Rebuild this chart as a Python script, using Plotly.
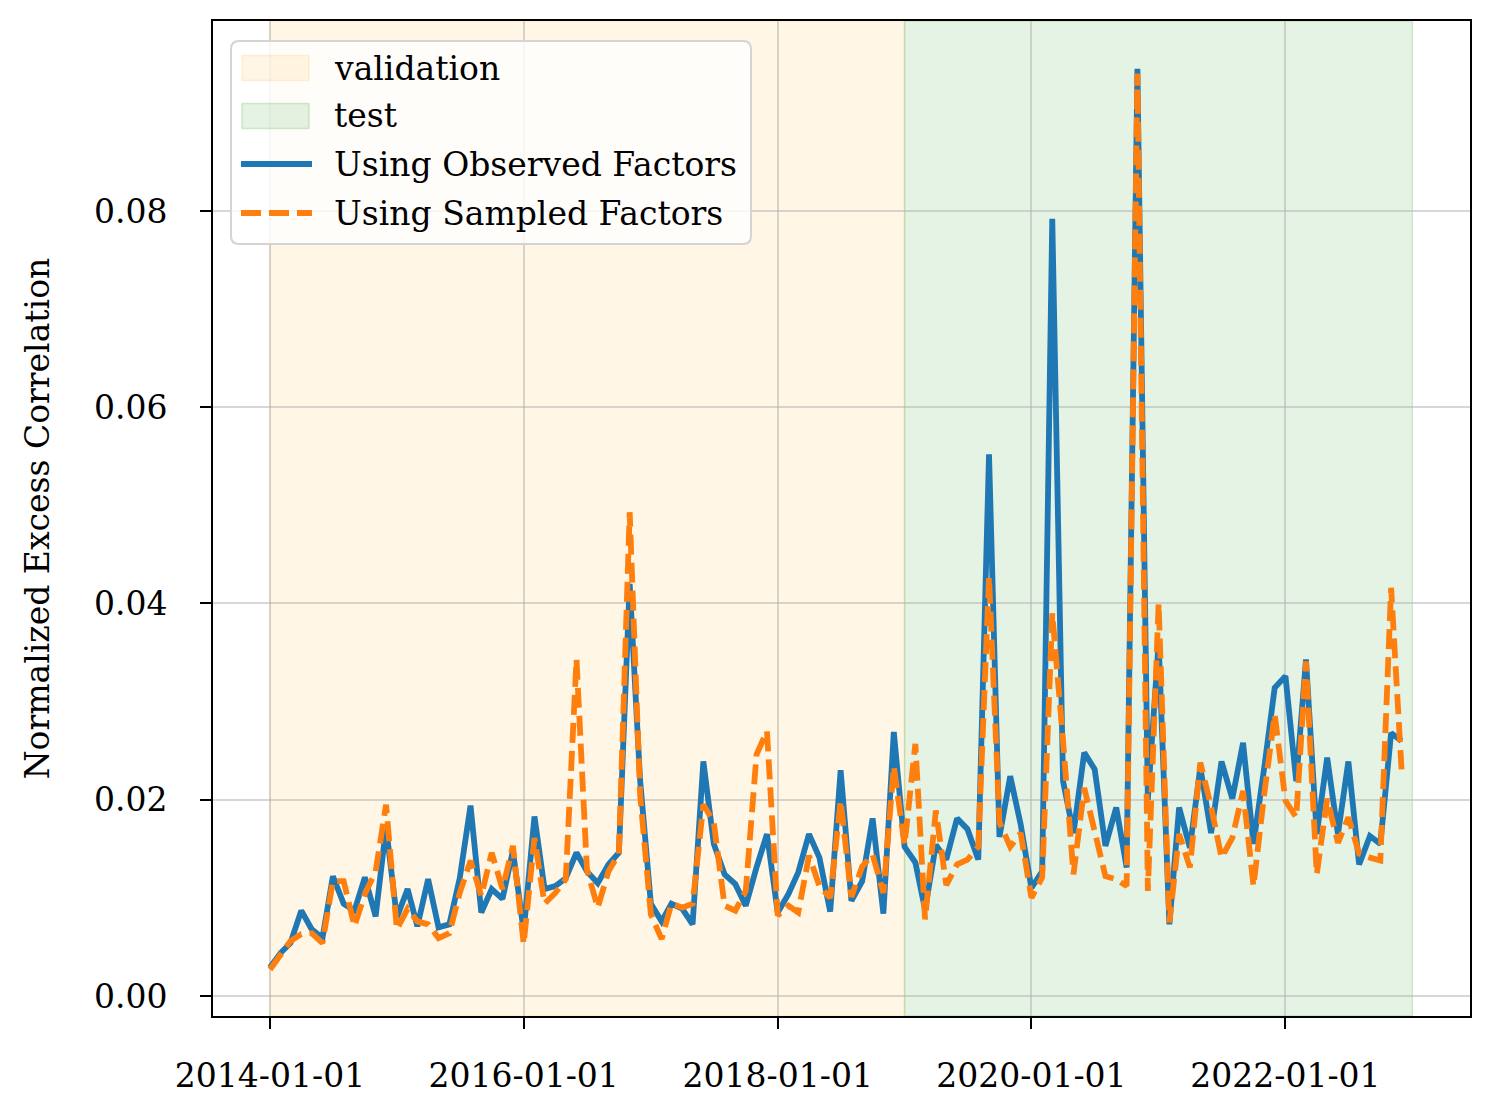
import pandas as pd
import plotly.graph_objects as go

dates = pd.date_range("2014-01-01", periods=108, freq="MS")

observed = [
    0.0029, 0.0044, 0.0054, 0.0087, 0.0068, 0.0059, 0.0122, 0.0094, 0.0087, 0.0121, 0.0081, 0.0172,
    0.0080, 0.0109, 0.0071, 0.0119, 0.0070, 0.0073, 0.0120, 0.0194, 0.0085, 0.0109, 0.0099, 0.0148,
    0.0066, 0.0183, 0.0109, 0.0112, 0.0120, 0.0146, 0.0127, 0.0115, 0.0134, 0.0146, 0.0420, 0.0220,
    0.0094, 0.0076, 0.0094, 0.0089, 0.0073, 0.0239, 0.0155, 0.0124, 0.0114, 0.0092, 0.0131, 0.0165,
    0.0085, 0.0104, 0.0126, 0.0165, 0.0141, 0.0086, 0.0230, 0.0097, 0.0117, 0.0181, 0.0084, 0.0269,
    0.0152, 0.0136, 0.0088, 0.0154, 0.0139, 0.0181, 0.0170, 0.0139, 0.0552, 0.0162, 0.0224, 0.0175,
    0.0110, 0.0127, 0.0792, 0.0219, 0.0166, 0.0248, 0.0231, 0.0153, 0.0192, 0.0131, 0.0945, 0.0200,
    0.0360, 0.0073, 0.0192, 0.0151, 0.0233, 0.0166, 0.0239, 0.0201, 0.0258, 0.0155, 0.0233, 0.0314,
    0.0326, 0.0219, 0.0343, 0.0165, 0.0243, 0.0165, 0.0239, 0.0134, 0.0163, 0.0155, 0.0268, 0.0260,
]

sampled = [
    0.0027, 0.0041, 0.0056, 0.0063, 0.0064, 0.0054, 0.0117, 0.0117, 0.0071, 0.0104, 0.0127, 0.0195,
    0.0068, 0.0089, 0.0076, 0.0073, 0.0059, 0.0064, 0.0105, 0.0138, 0.0102, 0.0146, 0.0109, 0.0153,
    0.0053, 0.0161, 0.0094, 0.0105, 0.0119, 0.0343, 0.0129, 0.0090, 0.0127, 0.0145, 0.0493, 0.0205,
    0.0083, 0.0058, 0.0094, 0.0090, 0.0094, 0.0195, 0.0177, 0.0092, 0.0087, 0.0107, 0.0246, 0.0270,
    0.0082, 0.0092, 0.0085, 0.0143, 0.0112, 0.0100, 0.0199, 0.0101, 0.0132, 0.0144, 0.0105, 0.0234,
    0.0154, 0.0257, 0.0078, 0.0189, 0.0113, 0.0134, 0.0139, 0.0152, 0.0427, 0.0177, 0.0152, 0.0166,
    0.0100, 0.0121, 0.0390, 0.0260, 0.0124, 0.0212, 0.0168, 0.0122, 0.0119, 0.0112, 0.0940, 0.0107,
    0.0400, 0.0075, 0.0165, 0.0131, 0.0238, 0.0193, 0.0141, 0.0161, 0.0209, 0.0112, 0.0206, 0.0287,
    0.0199, 0.0182, 0.0341, 0.0124, 0.0201, 0.0156, 0.0182, 0.0145, 0.0141, 0.0138, 0.0416, 0.0231,
]

validation_span = ["2014-01-01", "2019-01-01"]
test_span = ["2019-01-01", "2023-01-01"]

x_tickvals = ["2014-01-01", "2016-01-01", "2018-01-01", "2020-01-01", "2022-01-01"]
y_tickvals = [0.00, 0.02, 0.04, 0.06, 0.08]
y_ticktext = ["0.00", "0.02", "0.04", "0.06", "0.08"]

legend_labels = ["validation", "test", "Using Observed Factors", "Using Sampled Factors"]

FONT = "DejaVu Serif"
FS = 33
VAL_FILL = "rgba(255,165,0,0.10)"
VAL_EDGE = "rgba(255,165,0,0.14)"
TEST_FILL = "rgba(44,160,44,0.12)"
TEST_EDGE = "rgba(44,160,44,0.20)"
BLUE = "#1f77b4"
ORANGE = "#ff7f0e"
DASH = "20px,8px"
LW = 5.8

W, H = 1495, 1116
ML, MR, MT, MB = 205, 33, 13, 108
PW = W - ML - MR  # plot width in px
PH = H - MT - MB  # plot height in px

fig = go.Figure()

# shaded periods (below grid)
fig.add_shape(type="rect", xref="x", yref="paper",
              x0=validation_span[0], x1=validation_span[1], y0=0, y1=1,
              fillcolor=VAL_FILL, line=dict(color=VAL_EDGE, width=1.5), layer="below")
fig.add_shape(type="rect", xref="x", yref="paper",
              x0=test_span[0], x1=test_span[1], y0=0, y1=1,
              fillcolor=TEST_FILL, line=dict(color=TEST_EDGE, width=1.5), layer="below")

fig.add_trace(go.Scatter(x=dates, y=observed, mode="lines", name=legend_labels[2],
                         line=dict(color=BLUE, width=LW), showlegend=False))
fig.add_trace(go.Scatter(x=dates, y=sampled, mode="lines", name=legend_labels[3],
                         line=dict(color=ORANGE, width=LW, dash=DASH), showlegend=False))


# ---- legend box (drawn in plot-area paper coordinates, from pixel offsets) ----
def px_x(p):
    return p / PW


def px_y(p):
    return 1 - p / PH


box_l, box_r, box_t, box_b, rad = 18, 538, 20, 223, 8
x0, x1 = px_x(box_l), px_x(box_r)
y0, y1 = px_y(box_t), px_y(box_b)
rx, ry = rad / PW, rad / PH
path = (f"M{x0+rx},{y0} L{x1-rx},{y0} Q{x1},{y0} {x1},{y0-ry} "
        f"L{x1},{y1+ry} Q{x1},{y1} {x1-rx},{y1} L{x0+rx},{y1} Q{x0},{y1} {x0},{y1+ry} "
        f"L{x0},{y0-ry} Q{x0},{y0} {x0+rx},{y0} Z")
fig.add_shape(type="path", xref="paper", yref="paper", path=path,
              fillcolor="rgba(255,255,255,0.8)", line=dict(color="#d4d4d4", width=2), layer="above")

row_y = [47, 95, 143, 192]  # row centers, px below plot top
sw_l, sw_r, sw_h = 29, 96, 25
fig.add_shape(type="rect", xref="paper", yref="paper",
              x0=px_x(sw_l), x1=px_x(sw_r), y0=px_y(row_y[0] - sw_h / 2), y1=px_y(row_y[0] + sw_h / 2),
              fillcolor=VAL_FILL, line=dict(color=VAL_EDGE, width=1.5), layer="above")
fig.add_shape(type="rect", xref="paper", yref="paper",
              x0=px_x(sw_l), x1=px_x(sw_r), y0=px_y(row_y[1] - sw_h / 2), y1=px_y(row_y[1] + sw_h / 2),
              fillcolor=TEST_FILL, line=dict(color=TEST_EDGE, width=1.5), layer="above")
fig.add_shape(type="line", xref="paper", yref="paper",
              x0=px_x(28), x1=px_x(99), y0=px_y(row_y[2]), y1=px_y(row_y[2]),
              line=dict(color=BLUE, width=LW), layer="above")
fig.add_shape(type="line", xref="paper", yref="paper",
              x0=px_x(28), x1=px_x(99), y0=px_y(row_y[3]), y1=px_y(row_y[3]),
              line=dict(color=ORANGE, width=LW, dash=DASH), layer="above")
for lbl, ry_ in zip(legend_labels, row_y):
    fig.add_annotation(xref="paper", yref="paper", x=px_x(119), y=px_y(ry_),
                       xanchor="left", yanchor="middle", text=lbl, showarrow=False,
                       font=dict(family=FONT, size=FS, color="black"))

fig.update_layout(
    width=W, height=H,
    margin=dict(l=ML, r=MR, t=MT, b=MB),
    paper_bgcolor="white", plot_bgcolor="white",
    font=dict(family=FONT, size=FS, color="black"),
    showlegend=False,
)

fig.update_xaxes(
    type="date", range=["2013-07-21", "2023-06-16"],
    tickvals=x_tickvals, ticktext=x_tickvals,
    showgrid=True, gridcolor="rgba(176,176,176,0.5)", gridwidth=2,
    showline=True, linecolor="black", linewidth=2, mirror=True,
    ticks="outside", ticklen=11, tickwidth=2, tickcolor="black",
    tickfont=dict(family=FONT, size=FS), zeroline=False, ticklabelstandoff=18,
)
fig.update_yaxes(
    range=[-0.00204, 0.09936],
    tickvals=y_tickvals, ticktext=y_ticktext,
    showgrid=True, gridcolor="rgba(176,176,176,0.5)", gridwidth=2,
    showline=True, linecolor="black", linewidth=2, mirror=True,
    ticks="outside", ticklen=11, tickwidth=2, tickcolor="black",
    tickfont=dict(family=FONT, size=FS), zeroline=False, ticklabelstandoff=26,
    title=dict(text="Normalized Excess Correlation", font=dict(family=FONT, size=FS), standoff=34),
)

fig.write_html("out.html")
